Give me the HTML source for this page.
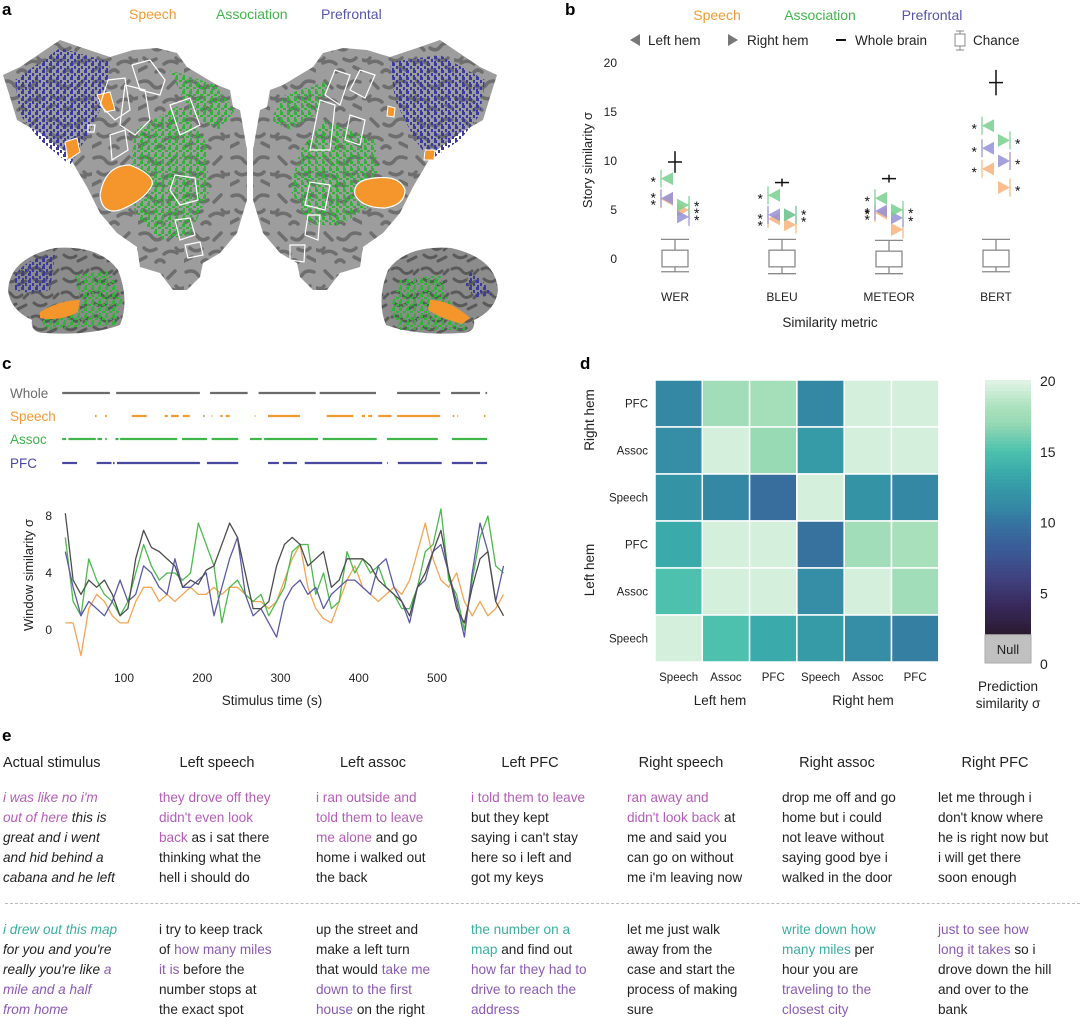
<!DOCTYPE html>
<html><head><meta charset="utf-8">
<style>
body{margin:0;background:#fff;}
#root{position:relative;width:1080px;height:1017px;overflow:hidden;font-family:"Liberation Sans",sans-serif;color:#222;}
.abs{position:absolute;white-space:nowrap;}
.lt{font-weight:bold;font-size:17px;color:#000;}
.col{position:absolute;top:788px;font-size:13.6px;line-height:20px;white-space:nowrap;color:#222;}
.col2{top:920px;}
.hd{position:absolute;top:755px;font-size:14.5px;width:150px;text-align:center;color:#222;}
.m{color:#b65db9;} .p{color:#8a5ab5;} .t{color:#3aaf9f;}
i{font-style:italic;}
svg text{font-family:"Liberation Sans",sans-serif;}
</style></head>
<body>
<div id="root">

<!-- Panel a -->
<div class="abs lt" style="left:2px;top:0px">a</div>
<div class="abs" style="left:129px;top:6px;font-size:14px;color:#f39a32">Speech</div>
<div class="abs" style="left:216px;top:6px;font-size:14px;color:#3fb54a">Association</div>
<div class="abs" style="left:321px;top:6px;font-size:14px;color:#5656a8">Prefrontal</div>
<svg class="abs" style="left:0;top:0" width="540" height="345">
<defs>
<pattern id="sulc" width="46" height="38" patternUnits="userSpaceOnUse">
<rect width="46" height="38" fill="#9d9d9d"/>
<path d="M2 6 q8 -3 12 3 q4 5 10 1 M6 20 q5 5 12 1 M26 26 q6 -5 13 -1 M30 12 l7 -7 M0 33 l8 -4 M18 34 q4 -4 8 0 M38 20 q3 4 7 2" stroke="#6e6e6e" stroke-width="3.5" fill="none" stroke-linecap="round"/>
</pattern>
<pattern id="sulc2" width="30" height="24" patternUnits="userSpaceOnUse">
<rect width="30" height="24" fill="#8c8c8c"/>
<path d="M2 5 q6 -3 10 2 t10 0 M4 15 q6 5 12 1 M18 21 l8 -4 M24 10 l4 -4" stroke="#5a5a5a" stroke-width="3" fill="none" stroke-linecap="round"/>
</pattern>
<pattern id="blu" width="7" height="7" patternUnits="userSpaceOnUse"><rect width="3" height="3" fill="#3a3aa0"/><rect x="4" y="3" width="2" height="3" fill="#3a3aa0"/><rect x="1" y="5" width="2" height="2" fill="#3a3aa0"/></pattern>
<pattern id="grn" width="7" height="7" patternUnits="userSpaceOnUse"><rect width="3" height="3" fill="#2fb536"/><rect x="4" y="3" width="3" height="2" fill="#2fb536"/><rect x="1" y="5" width="2" height="2" fill="#2fb536"/></pattern>
</defs>
<g>
<path d="M3 75 L20 67 L60 40 L80 47 L110 57 L133 50 L157 48 L177 53 L187 67 L217 85 L230 90 L233 107 L240 110 L243 127 L247 150 L247 200 L237 233 L220 253 L203 263 L200 277 L187 290 L173 290 L160 273 L140 267 L137 247 L117 233 L100 213 L87 187 L67 153 L40 133 L17 120 L10 97 Z" fill="url(#sulc)"/>
<path d="M15 80 L60 48 L110 62 L105 100 L85 140 L70 165 L40 140 L20 115 Z" fill="url(#blu)"/>
<path d="M135 130 L180 105 L205 140 L210 190 L190 235 L160 240 L135 215 L130 170 Z" fill="url(#grn)"/>
<path d="M170 70 L215 85 L235 110 L220 130 L190 115 Z" fill="url(#grn)"/>
<path d="M100 195 Q105 165 130 165 Q155 175 152 185 Q145 200 120 210 Q102 215 100 195 Z" fill="#f5962c" stroke="#fff" stroke-width="1.2"/>
<path d="M97 95 L110 92 L115 110 L105 112 Z" fill="#f5962c" stroke="#fff" stroke-width="1"/>
<path d="M65 142 L77 138 L80 152 L68 160 Z" fill="#f5962c" stroke="#fff" stroke-width="1"/>
<g fill="none" stroke="#fff" stroke-width="1.2">
<path d="M132 65 L150 60 L165 80 L160 95 L140 90 Z"/><path d="M108 80 L125 78 L130 110 L115 120 L100 105 Z"/>
<path d="M125 85 L145 90 L150 120 L135 135 L120 125 Z"/><path d="M170 105 L190 98 L200 125 L180 135 Z"/>
<path d="M175 175 L195 178 L198 200 L180 205 L170 190 Z"/><path d="M175 220 L190 218 L195 235 L180 240 Z"/>
<path d="M185 245 L200 242 L203 255 L188 258 Z"/><path d="M110 135 L125 130 L128 150 L112 160 Z"/>
<path d="M88 125 L95 125 L94 132 L88 132 Z"/>
</g>
</g>
<g transform="translate(500,0) scale(-1,1)">
<path d="M3 75 L20 67 L60 40 L80 47 L110 57 L133 50 L157 48 L177 53 L187 67 L217 85 L230 90 L233 107 L240 110 L243 127 L247 150 L247 200 L237 233 L220 253 L203 263 L200 277 L187 290 L173 290 L160 273 L140 267 L137 247 L117 233 L100 213 L87 187 L67 153 L40 133 L17 120 L10 97 Z" fill="url(#sulc)"/>
<path d="M15 80 L60 55 L110 62 L105 100 L85 140 L70 160 L40 140 L20 115 Z" fill="url(#blu)"/>
<path d="M125 140 L175 120 L200 150 L210 190 L190 225 L160 225 L120 200 Z" fill="url(#grn)"/>
<path d="M170 80 L215 95 L230 120 L210 130 L185 115 Z" fill="url(#grn)"/>
<path d="M95 190 Q100 175 125 178 Q148 180 145 195 Q138 208 115 208 Q95 205 95 190 Z" fill="#f5962c" stroke="#fff" stroke-width="1.2"/>
<path d="M105 108 L112 106 L113 116 L106 117 Z" fill="#f5962c" stroke="#fff"/>
<path d="M65 150 L75 150 L76 160 L66 160 Z" fill="#f5962c" stroke="#fff"/>
<g fill="none" stroke="#fff" stroke-width="1.2">
<path d="M125 75 L140 70 L150 90 L135 98 Z"/><path d="M150 75 L165 70 L175 95 L160 105 Z"/>
<path d="M165 105 L180 100 L190 150 L170 150 Z"/><path d="M170 185 L190 182 L195 205 L175 210 Z"/>
<path d="M180 215 L192 215 L195 235 L182 240 Z"/><path d="M195 245 L210 245 L210 260 L196 262 Z"/>
<path d="M135 120 L150 115 L155 140 L140 145 Z"/>
</g>
</g>
<g>
<path d="M8 290 Q10 258 55 248 Q100 245 118 270 Q130 300 120 325 Q90 336 45 333 Q30 333 32 320 Q10 310 8 290 Z" fill="url(#sulc2)"/>
<path d="M15 275 Q30 255 55 255 L50 290 Q30 295 15 290 Z" fill="url(#blu)"/>
<path d="M75 275 L110 270 L122 300 L115 325 L45 330 L40 315 L80 300 Z" fill="url(#grn)"/>
<path d="M40 312 Q60 300 80 300 L78 312 Q60 322 40 318 Z" fill="#f5962c"/>
</g>
<g>
<path d="M498 290 Q496 258 451 248 Q406 245 388 270 Q376 300 386 325 Q416 336 461 333 Q476 333 474 320 Q496 310 498 290 Z" fill="url(#sulc2)"/>
<path d="M470 272 Q485 280 492 295 L475 298 L465 285 Z" fill="url(#blu)"/>
<path d="M400 280 L440 275 L455 315 L470 330 L400 330 L390 310 Z" fill="url(#grn)"/>
<path d="M430 300 Q450 300 470 318 L462 324 Q440 318 428 310 Z" fill="#f5962c"/>
</g>
</svg>

<!-- Panel b -->
<div class="abs lt" style="left:565px;top:0px">b</div>
<svg class="abs" style="left:560px;top:0" width="520" height="340" id="svgb"></svg>

<!-- Panel c -->
<div class="abs lt" style="left:2px;top:354px">c</div>
<svg class="abs" style="left:0;top:350px" width="560" height="365" id="svgc"></svg>

<!-- Panel d -->
<div class="abs lt" style="left:580px;top:354px">d</div>
<svg class="abs" style="left:560px;top:350px" width="520" height="370" id="svgd"></svg>

<!-- Panel e -->
<div class="abs lt" style="left:2px;top:726px">e</div>
<div class="abs" style="left:3px;top:755px;font-size:14.5px">Actual stimulus</div>
<div class="hd" style="left:142px">Left speech</div>
<div class="hd" style="left:298px">Left assoc</div>
<div class="hd" style="left:455px">Left PFC</div>
<div class="hd" style="left:606px">Right speech</div>
<div class="hd" style="left:762px">Right assoc</div>
<div class="hd" style="left:920px">Right PFC</div>

<div class="col" style="left:3px"><i><span class="m">i was like no i'm<br>out of here</span> this is<br>great and i went<br>and hid behind a<br>cabana and he left</i></div>
<div class="col" style="left:159px"><span class="m">they drove off they<br>didn't even look<br>back</span> as i sat there<br>thinking what the<br>hell i should do</div>
<div class="col" style="left:316px"><span class="m">i ran outside and<br>told them to leave<br>me alone</span> and go<br>home i walked out<br>the back</div>
<div class="col" style="left:471px"><span class="m">i told them to leave</span><br>but they kept<br>saying i can't stay<br>here so i left and<br>got my keys</div>
<div class="col" style="left:627px"><span class="m">ran away and<br>didn't look back</span> at<br>me and said you<br>can go on without<br>me i'm leaving now</div>
<div class="col" style="left:782px">drop me off and go<br>home but i could<br>not leave without<br>saying good bye i<br>walked in the door</div>
<div class="col" style="left:938px">let me through i<br>don't know where<br>he is right now but<br>i will get there<br>soon enough</div>

<div class="abs" style="left:5px;top:903px;width:1075px;border-top:1.5px dashed #bbb"></div>

<div class="col col2" style="left:3px"><i><span class="t">i drew out this map</span><br>for you and you're<br>really you're like <span class="p">a<br>mile and a half<br>from home</span></i></div>
<div class="col col2" style="left:159px">i try to keep track<br>of <span class="p">how many miles<br>it is</span> before the<br>number stops at<br>the exact spot</div>
<div class="col col2" style="left:316px">up the street and<br>make a left turn<br>that would <span class="p">take me<br>down to the first<br>house</span> on the right</div>
<div class="col col2" style="left:471px"><span class="t">the number on a<br>map</span> and find out<br><span class="p">how far they had to<br>drive to reach the<br>address</span></div>
<div class="col col2" style="left:627px">let me just walk<br>away from the<br>case and start the<br>process of making<br>sure</div>
<div class="col col2" style="left:782px"><span class="t">write down how<br>many miles</span> per<br>hour you are<br><span class="p">traveling to the<br>closest city</span></div>
<div class="col col2" style="left:938px"><span class="p">just to see how<br>long it takes</span> so i<br>drove down the hill<br>and over to the<br>bank</div>
</div>

<script>
const NS='http://www.w3.org/2000/svg';
function mk(parent,tag,attrs,txt){const e=document.createElementNS(NS,tag);for(const k in attrs)e.setAttribute(k,attrs[k]);if(txt!==undefined)e.textContent=txt;parent.appendChild(e);return e;}

/* ---------- Panel b data ---------- */
const metrics=['WER','BLEU','METEOR','BERT'];
const wholeBrain=[9.9,7.8,8.2,18.0];
const leftSpeech=[6.1,4.1,4.7,9.2];
const leftAssoc=[8.2,6.5,6.2,13.6];
const leftPFC=[6.2,4.5,4.9,11.3];
const rightSpeech=[5.0,3.5,3.0,7.3];
const rightAssoc=[5.5,4.5,5.0,12.1];
const rightPFC=[4.3,4.5,4.2,10.0];
const chanceWhiskerHi=[2.0,2.0,1.9,2.0];
const chanceBoxHi=[0.9,0.9,0.8,0.9];
const chanceBoxLo=[-0.8,-0.8,-0.8,-0.8];
const chanceWhiskerLo=[-1.3,-1.5,-1.5,-1.3];
const yTicksB=[0,5,10,15,20];
const starsLeftSpeech=[0,2,2,1], starsLeftAssoc=[1,1,1,1], starsLeftPFC=[2,0,1,1];
const starsRightSpeech=[3,0,0,1], starsRightAssoc=[0,0,1,1], starsRightPFC=[0,2,1,1];

(function(){
const s=document.getElementById('svgb');
const ox=560;
const y=v=>259-v*9.8;
const xc=i=>675-ox+i*107;
const C={sp:'#f9b37a',as:'#78d08e',pf:'#9490d6'};
[['Speech',157,'#f39a32'],['Association',260,'#3fb54a'],['Prefrontal',372,'#5656a8']].forEach(d=>{
 const t=mk(s,'text',{x:d[1],y:20,'text-anchor':'middle','font-size':14,fill:d[2]},d[0]);
 
 
});
let g=mk(s,'g',{});


mk(g,'path',{d:'M70 40 l10 -6 v12 z',fill:'#777'});
mk(g,'text',{x:88,y:45,'font-size':13.5,fill:'#222'},'Left hem');
mk(g,'path',{d:'M168 34 l10 6 l-10 6 z',fill:'#777'});
mk(g,'text',{x:187,y:45,'font-size':13.5,fill:'#222'},'Right hem');
mk(g,'line',{x1:276,x2:286,y1:40,y2:40,stroke:'#111','stroke-width':2});
mk(g,'text',{x:295,y:45,'font-size':13.5,fill:'#222'},'Whole brain');
mk(g,'path',{d:'M396 31 h8 M400 31 v3 M395 34 h10 v12 h-10 z M400 46 v4 M396 50 h8',stroke:'#888',fill:'none','stroke-width':1});
mk(g,'text',{x:413,y:45,'font-size':13.5,fill:'#222'},'Chance');
yTicksB.forEach(v=>{const t=mk(s,'text',{x:57,y:y(v)+4,'text-anchor':'end','font-size':12,fill:'#222'},v);
 
 });
const yt=mk(s,'text',{x:0,y:0,transform:'translate(32,160) rotate(-90)','text-anchor':'middle','font-size':13,fill:'#222'},'Story similarity σ');


const xt=mk(s,'text',{x:270,y:327,'text-anchor':'middle','font-size':13.5,fill:'#222'},'Similarity metric');


function stars(x,v,n,anchor){for(let k=0;k<n;k++){mk(s,'text',{x:x,y:y(v)+8+(k-(n-1)/2)*7,'text-anchor':anchor,'font-size':14,fill:'#111'},'*');}}
metrics.forEach((m,i)=>{
 const cx=xc(i);
 const lab=mk(s,'text',{x:cx,y:301,'text-anchor':'middle','font-size':12,fill:'#222'},m);
 
 
 const cb=mk(s,'g',{stroke:'#8a8a8a',fill:'none','stroke-width':1.3});
 
 
 mk(cb,'line',{x1:cx-14,x2:cx+14,y1:y(chanceWhiskerHi[i]),y2:y(chanceWhiskerHi[i])});
 mk(cb,'line',{x1:cx,x2:cx,y1:y(chanceWhiskerHi[i]),y2:y(chanceBoxHi[i])});
 mk(cb,'rect',{x:cx-13,y:y(chanceBoxHi[i]),width:26,height:y(chanceBoxLo[i])-y(chanceBoxHi[i])});
 mk(cb,'line',{x1:cx,x2:cx,y1:y(chanceBoxLo[i]),y2:y(chanceWhiskerLo[i])});
 mk(cb,'line',{x1:cx-14,x2:cx+14,y1:y(chanceWhiskerLo[i]),y2:y(chanceWhiskerLo[i])});
 const wb=mk(s,'g',{stroke:'#111','stroke-width':1.5});
 
 
 const w=wholeBrain[i], e=i==3?1.3:(i==0?1.1:0.4);
 mk(wb,'line',{x1:cx-7,x2:cx+7,y1:y(w),y2:y(w)});
 mk(wb,'line',{x1:cx,x2:cx,y1:y(w-e),y2:y(w+e)});
 const L=[[leftSpeech,C.sp,starsLeftSpeech,'speech'],[leftPFC,C.pf,starsLeftPFC,'pfc'],[leftAssoc,C.as,starsLeftAssoc,'assoc']];
 const R=[[rightSpeech,C.sp,starsRightSpeech,'speech'],[rightPFC,C.pf,starsRightPFC,'pfc'],[rightAssoc,C.as,starsRightAssoc,'assoc']];
 L.forEach(d=>{const v=d[0][i],tx=cx-14,yy=y(v);
  const p=mk(s,'path',{d:`M${tx} ${yy} L${tx+12} ${yy-6.5} L${tx+12} ${yy+6.5} Z`,fill:d[1],opacity:0.85});
  
  
  mk(s,'line',{x1:tx,x2:tx,y1:yy-9,y2:yy+9,stroke:d[1],'stroke-width':1.2});
  stars(tx-5,v,d[2][i],'end');});
 R.forEach(d=>{const v=d[0][i],tx=cx+14,yy=y(v);
  const p=mk(s,'path',{d:`M${tx} ${yy} L${tx-12} ${yy-6.5} L${tx-12} ${yy+6.5} Z`,fill:d[1],opacity:0.85});
  
  
  mk(s,'line',{x1:tx,x2:tx,y1:yy-9,y2:yy+9,stroke:d[1],'stroke-width':1.2});
  stars(tx+5,v,d[2][i],'start');});
});
})();

/* ---------- Panel c data ---------- */
const timesC=[25,35,45,55,65,75,85,95,105,115,125,135,145,155,165,175,185,195,205,215,225,235,245,255,265,275,285,295,305,315,325,335,345,355,365,375,385,395,405,415,425,435,445,455,465,475,485,495,505,515,525,535,545,555,565,575,585];
const wholeSeries=[8.2,3.5,2.5,3.5,3.0,3.5,2.5,1.0,1.5,5.0,7.0,5.8,5.5,5.0,4.5,3.0,3.5,3.2,4.2,4.5,6.0,7.5,6.5,4.0,1.5,1.5,2.0,4.5,6.0,6.5,6.0,4.5,5.0,5.5,3.0,3.5,5.0,5.0,5.0,4.5,3.5,3.0,2.5,2.0,1.0,3.0,4.0,5.5,7.0,4.0,1.5,0.5,3.0,5.0,5.5,2.0,1.0];
const speechSeries=[0.5,0.5,-1.8,1.5,2.5,2.0,1.0,0.5,0.5,2.0,3.0,3.0,2.0,2.5,2.0,2.5,3.0,2.5,2.5,3.0,2.5,3.0,3.0,2.5,2.0,2.0,1.5,2.0,3.5,5.0,6.0,3.0,1.5,0.8,0.5,2.0,3.5,4.5,3.0,2.5,2.0,2.5,3.0,2.5,3.5,5.5,7.5,5.0,3.5,3.0,4.0,2.0,1.0,2.0,1.0,1.5,2.5];
const assocSeries=[6.5,2.0,1.0,5.0,3.5,2.5,2.0,1.0,2.0,4.0,6.0,4.5,3.5,4.0,4.0,3.5,4.0,7.5,6.0,4.5,0.5,3.0,3.5,2.5,2.0,2.5,1.0,2.0,3.0,5.5,6.0,6.0,2.5,4.0,1.5,2.0,5.5,4.0,5.0,4.0,4.5,3.0,2.5,1.5,1.5,3.0,5.5,6.0,8.5,3.5,2.5,0.0,3.5,6.5,8.0,4.5,4.0];
const pfcSeries=[5.5,3.0,1.0,2.0,1.5,1.0,2.0,3.5,2.0,2.5,4.5,4.0,3.0,2.5,5.0,3.0,3.0,3.5,4.0,1.0,3.0,5.0,6.5,2.5,1.0,1.5,0.5,-0.5,2.0,3.0,3.5,2.5,3.0,1.5,2.5,3.0,3.5,3.5,3.0,2.5,4.5,5.0,3.0,2.0,0.5,3.0,3.5,5.5,6.0,4.0,2.0,-0.5,4.0,7.5,5.5,2.0,4.5];
const xTicksC=[100,200,300,400,500];
const yTicksC=[0,4,8];
const wholeSegs=[[21,82],[90,197],[210,258],[272,345],[350,422],[449,504],[518,555],[562,564]];
const speechSegs=[[63,65],[76,78],[110,129],[152,156],[160,170],[175,184],[201,203],[212,213],[223,226],[230,235],[267,268],[284,325],[359,393],[404,408],[412,417],[425,442],[449,504],[520,522],[526,527],[560,562]];
const assocSegs=[[21,26],[29,64],[66,72],[76,78],[89,93],[95,168],[174,206],[212,246],[261,276],[279,348],[354,423],[436,501],[519,564]];
const pfcSegs=[[21,40],[65,84],[86,88],[91,197],[206,246],[284,298],[303,321],[331,430],[436,437],[450,506],[519,546],[550,564]];

(function(){
const s=document.getElementById('svgc');
const oy=350;
const x=t=>45.75+t*0.7825;
const y=v=>630-oy-v*14.25;
const strips=[['Whole',wholeSegs,'#6b6b6b',43],['Speech',speechSegs,'#f39a32',66],['Assoc',assocSegs,'#3fb54a',89],['PFC',pfcSegs,'#4848a0',113]];
strips.forEach(st=>{
 const t=mk(s,'text',{x:10,y:st[3]+5,'font-size':13.5,fill:st[2]},st[0]);
 
 
 st[1].forEach(seg=>{const l=mk(s,'line',{x1:x(seg[0]),x2:x(seg[1]),y1:st[3],y2:st[3],stroke:st[2],'stroke-width':2.2});
  
  });
});
yTicksC.forEach(v=>{const t=mk(s,'text',{x:52,y:y(v)+4,'text-anchor':'end','font-size':12,fill:'#222'},v);
 
 });
xTicksC.forEach(v=>{const t=mk(s,'text',{x:x(v),y:332,'text-anchor':'middle','font-size':12,fill:'#222'},v);
 
 });
const yt=mk(s,'text',{x:0,y:0,transform:'translate(33,225) rotate(-90)','text-anchor':'middle','font-size':13,fill:'#222'},'Window similarity σ');


const xt=mk(s,'text',{x:272,y:355,'text-anchor':'middle','font-size':13.5,fill:'#222'},'Stimulus time (s)');


[[speechSeries,'#f5a451','speech-line'],[assocSeries,'#4cbb4c','assoc-line'],[pfcSeries,'#5b5aa6','pfc-line'],[wholeSeries,'#4d4d4d','whole-line']].forEach(d=>{
 let dstr='';
 timesC.forEach((t,i)=>{
  const px=x(t),py=y(d[0][i]);
  if(i===0){dstr+=`M${px.toFixed(1)} ${py.toFixed(1)}`;return;}
  const pxp=x(timesC[i-1]),pyp=y(d[0][i-1]);
  // intermediate vertices along straight segment (no invented values)
  for(let k=1;k<=3;k++){const f=k/4;dstr+=` L${(pxp+(px-pxp)*f).toFixed(1)} ${(pyp+(py-pyp)*f).toFixed(1)}`;}
  dstr+=` L${px.toFixed(1)} ${py.toFixed(1)}`;
 });
 const p=mk(s,'path',{d:dstr,fill:'none',stroke:d[1],'stroke-width':1.3,'stroke-linejoin':'round'});
 
 
});
})();

/* ---------- Panel d data ---------- */
const rowLabels=['PFC','Assoc','Speech','PFC','Assoc','Speech'];
const colLabels=['Speech','Assoc','PFC','Speech','Assoc','PFC'];
const heatValues=[
 [11.0,17.5,17.8,11.0,19.5,19.5],
 [11.5,19.5,17.0,12.5,19.5,19.5],
 [12.0,11.0,9.5,19.5,12.0,11.0],
 [13.5,19.5,19.5,9.8,17.5,18.0],
 [15.0,19.5,19.5,11.5,19.5,17.5],
 [19.5,15.0,13.5,12.5,11.5,10.5]];
const cbarTicks=[0,5,10,15,20];

(function(){
const s=document.getElementById('svgd');
const ox=560,oy=350;
const stops=[[2,[42,26,46]],[4,[55,40,90]],[6,[64,66,127]],[8,[59,89,152]],[10,[54,117,160]],[11,[52,136,164]],[12,[53,147,166]],[13.5,[58,170,170]],[15,[77,193,173]],[17,[151,218,180]],[18,[168,224,187]],[20,[226,244,230]]];
function col(v){if(v<=stops[0][0])return 'rgb('+stops[0][1]+')';for(let k=1;k<stops.length;k++){if(v<=stops[k][0]){const a=stops[k-1],b=stops[k],f=(v-a[0])/(b[0]-a[0]);return 'rgb('+a[1].map((c,j)=>Math.round(c+(b[1][j]-c)*f)).join(',')+')';}}return 'rgb('+stops[stops.length-1][1]+')';}
const x0=655-ox,y0=380-oy,cw=47.3,ch=47;
heatValues.forEach((row,r)=>row.forEach((v,c)=>{
 const e=mk(s,'rect',{x:x0+c*cw,y:y0+r*ch,width:cw,height:ch,fill:col(v),stroke:'#fff','stroke-width':1.5});
 
 
}));
rowLabels.forEach((l,r)=>{const t=mk(s,'text',{x:648-ox,y:y0+r*ch+ch/2+4,'text-anchor':'end','font-size':11.5,fill:'#222'},l);
 
 });
colLabels.forEach((l,c)=>{const t=mk(s,'text',{x:x0+c*cw+cw/2,y:331,'text-anchor':'middle','font-size':11.5,fill:'#222'},l);
 
 });
[['Right hem',70],['Left hem',220]].forEach(d=>{const t=mk(s,'text',{x:0,y:0,transform:`translate(34,${d[1]}) rotate(-90)`,'text-anchor':'middle','font-size':13.5,fill:'#222'},d[0]);
 
 });
[['Left hem',160],['Right hem',303]].forEach(d=>{const t=mk(s,'text',{x:d[1],y:355,'text-anchor':'middle','font-size':13.5,fill:'#222'},d[0]);
 
 });
const cy=v=>663-oy-v*14.15;
const cbx=985-ox;
for(let v=2;v<20;v+=0.25){mk(s,'rect',{x:cbx,y:cy(v+0.25),width:46,height:14.15*0.25+0.6,fill:col(v+0.125)});}
const nb=mk(s,'rect',{x:cbx,y:cy(2),width:46,height:cy(0)-cy(2),fill:'#c0c0c0',stroke:'#aaa'});


mk(s,'text',{x:cbx+23,y:cy(1)+5,'text-anchor':'middle','font-size':13,fill:'#222'},'Null');
cbarTicks.forEach(v=>{const t=mk(s,'text',{x:cbx+55,y:cy(v)+6,'font-size':14,fill:'#222'},v);
 
 });
mk(s,'text',{x:cbx+23,y:341,'text-anchor':'middle','font-size':13.5,fill:'#222'},'Prediction');
mk(s,'text',{x:cbx+23,y:358,'text-anchor':'middle','font-size':13.5,fill:'#222'},'similarity σ');
})();
</script>
</body></html>
